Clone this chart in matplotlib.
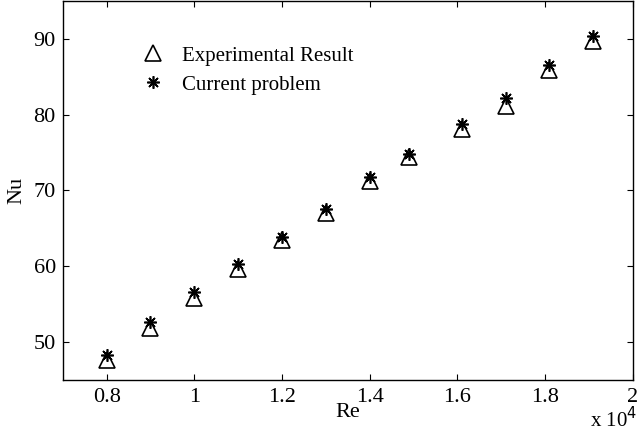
import matplotlib.pyplot as plt
import numpy as np

plt.rcParams['font.family'] = ['Liberation Serif', 'DejaVu Serif']

# Re values (x 10^4)
reExp = [0.8, 0.9, 1.0, 1.1, 1.2, 1.3, 1.4, 1.49, 1.61, 1.71, 1.81, 1.91]
nuExp = [47.6, 51.9, 55.8, 59.6, 63.4, 67.0, 71.2, 74.4, 78.1, 81.2, 85.9, 89.7]
reCur = [0.8, 0.9, 1.0, 1.1, 1.2, 1.3, 1.4, 1.49, 1.61, 1.71, 1.81, 1.91]
nuCur = [48.3, 52.6, 56.6, 60.3, 63.9, 67.6, 71.8, 74.8, 78.8, 82.2, 86.5, 90.4]

xTicks = [0.8, 1.0, 1.2, 1.4, 1.6, 1.8, 2.0]
xTickLabels = ['0.8', '1', '1.2', '1.4', '1.6', '1.8', '2']
yTicks = [50, 60, 70, 80, 90]

fig = plt.figure(figsize=(6.4, 4.33), dpi=100)
ax = fig.add_axes([0.098, 0.1224, 0.8906, 0.8756])

ax.plot(reExp, nuExp, linestyle='none', marker='^', markersize=11,
        markerfacecolor='white', markeredgecolor='black', markeredgewidth=1.2,
        label='Experimental Result')
ax.plot(reCur, nuCur, linestyle='none', marker=(8, 2, 0), markersize=9,
        color='black', markeredgewidth=1.2, label='Current problem')

ax.set_xlim(0.7, 2.0)
ax.set_ylim(45, 95)
ax.set_xticks(xTicks)
ax.set_xticklabels(xTickLabels)
ax.set_yticks(yTicks)
ax.tick_params(direction='in', length=4, top=True, right=True, labelsize=16, width=0.8)
ax.tick_params(axis='x', pad=6)
ax.tick_params(axis='y', pad=5)
for s in ax.spines.values():
    s.set_linewidth(1.0)
ax.set_xlabel('Re', fontsize=16, labelpad=-3)
ax.set_ylabel('Nu', fontsize=16, labelpad=5)

fig.text(0.995, 0.002, r'x 10$^4$', fontsize=15, ha='right', va='bottom')

leg = ax.legend(loc='upper left', bbox_to_anchor=(0.104, 0.93), frameon=False,
                fontsize=15, handletextpad=0.8, labelspacing=0.45, handlelength=1.2)

fig.savefig('out.png', dpi=100)
